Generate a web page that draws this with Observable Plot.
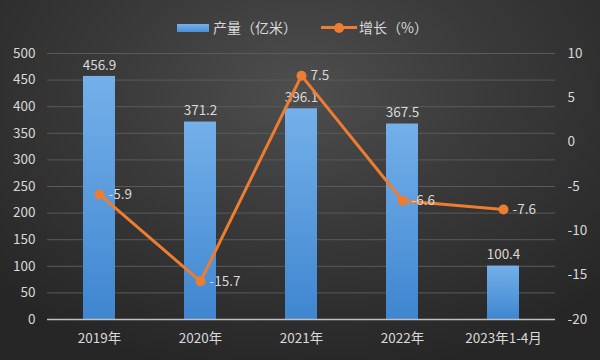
<!DOCTYPE html>
<html><head><meta charset="utf-8">
<script src="https://cdn.jsdelivr.net/npm/d3@7"></script>
<script src="https://cdn.jsdelivr.net/npm/@observablehq/plot@0.6"></script>
<style>
html,body{margin:0;padding:0;}
body{width:600px;height:360px;overflow:hidden;font-family:"Noto Sans CJK SC","Noto Sans",sans-serif;
background:radial-gradient(ellipse 70% 80% at 50% 25%, #4e4e4e 0%, #3a3a3a 45%, #262626 100%);}
#legend{position:relative;height:40px;color:#d9d9d9;font-size:14px;}
#legend .sw{position:absolute;left:177px;top:24px;width:32px;height:8px;background:linear-gradient(#74b0ea,#4a8fd6);}
#legend .t1{position:absolute;left:213px;top:17px;}
#legend .ln{position:absolute;left:321px;top:26px;width:36px;height:3px;background:#ed7d31;}
#legend .dot{position:absolute;left:334px;top:23px;width:10px;height:10px;border-radius:50%;background:#ed7d31;}
#legend .t2{position:absolute;left:359px;top:17px;}
</style></head>
<body>
<div id="legend"><div class="sw"></div><span class="t1">产量（亿米）</span><div class="ln"></div><div class="dot"></div><span class="t2">增长（%）</span></div>
<div id="chart"></div>
<script>
const categories = ["2019年","2020年","2021年","2022年","2023年1-4月"];
const output = [456.9, 371.2, 396.1, 367.5, 100.4];
const growth = [-5.9, -15.7, 7.5, -6.6, -7.6];
const leftTicks = [0,50,100,150,200,250,300,350,400,450,500];
const rightTicks = [-20,-15,-10,-5,0,5,10];

const rMin = -20, rMax = 10, lMax = 500;
const toLeft = v => (v - rMin) / (rMax - rMin) * lMax;

const data = categories.map((c,i) => ({cat:c, out:output[i], g:growth[i], gy:toLeft(growth[i])}));

const defs = () => {
  const d = d3.create("svg:defs");
  const g = d.append("linearGradient").attr("id","barGrad").attr("x1",0).attr("y1",0).attr("x2",0).attr("y2",1);
  g.append("stop").attr("offset","0%").attr("stop-color","#74b0ea");
  g.append("stop").attr("offset","100%").attr("stop-color","#3f86d0");
  return d.node();
};

const txt = "#d9d9d9";
const chart = Plot.plot({
  width: 600, height: 320,
  marginTop: 13, marginBottom: 41, marginLeft: 47, marginRight: 45,
  style: {background: "transparent", color: txt, fontSize: "13.5px", fontFamily: "'Noto Sans CJK SC','Noto Sans',sans-serif"},
  x: {domain: categories, paddingInner: 0.685, paddingOuter: 0.3425, label: null},
  y: {domain: [0, lMax], label: null},
  marks: [
    defs,
    Plot.gridY(leftTicks, {stroke: "#5a5a5a", strokeOpacity: 1}),
    Plot.axisY(leftTicks, {anchor: "left", tickSize: 0, tickPadding: 12, label: null, fill: txt, fontSize: 13.5}),
    Plot.axisY(rightTicks.map(toLeft), {anchor: "right", tickSize: 0, tickPadding: 12, label: null, fill: txt, fontSize: 13.5,
      tickFormat: d => String(Math.round(d / lMax * (rMax - rMin) + rMin)), textAnchor: "start"}),
    Plot.axisX({tickSize: 0, tickPadding: 14, label: null, fill: txt, fontSize: 13.5}),
    Plot.barY(data, {x: "cat", y: "out", fill: "url(#barGrad)"}),
    Plot.ruleY([0], {stroke: "#bfbfbf", strokeWidth: 1.5}),
    Plot.text(data, {x: "cat", y: "out", text: d => d.out.toFixed(1), dy: -11, fill: txt, fontSize: 13.5}),
    Plot.line(data, {x: "cat", y: "gy", stroke: "#ed7d31", strokeWidth: 3}),
    Plot.dot(data, {x: "cat", y: "gy", r: 5, fill: "#ed7d31", stroke: "none"}),
    Plot.text(data, {x: "cat", y: "gy", text: d => d.g.toFixed(1), dx: 9, textAnchor: "start", fill: txt, fontSize: 13.5})
  ]
});
document.getElementById("chart").appendChild(chart);
</script>
</body></html>
